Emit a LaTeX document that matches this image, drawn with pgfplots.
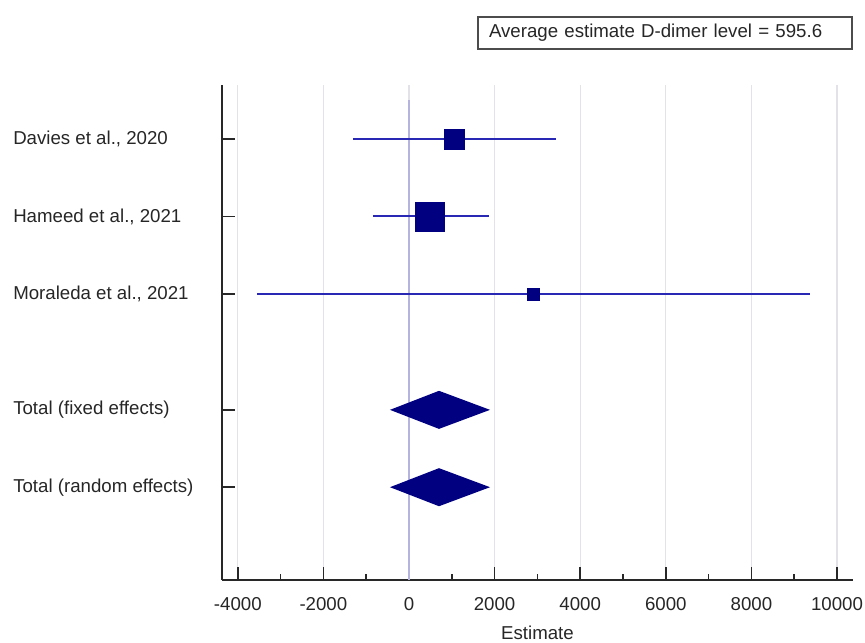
\documentclass[border=0pt]{standalone}
\usepackage{pgfplots}
\pgfplotsset{compat=1.18}
\usepackage{fontspec}
\setmainfont{Liberation Sans}
\definecolor{navy}{RGB}{0,0,128}
\definecolor{cibl}{RGB}{40,40,180}
\definecolor{zeroline}{RGB}{180,180,222}
\definecolor{gridc}{RGB}{226,226,232}
\definecolor{spine}{RGB}{40,40,40}
\begin{document}
\fontsize{14}{17}\selectfont
\begin{tikzpicture}
\path[use as bounding box] (-166.5pt,-47.25pt) rectangle (482.25pt,435pt);
\begin{axis}[
  at={(0pt,0pt)}, anchor=south west,
  scale only axis, width=473.25pt, height=371.25pt,
  xmin=-4369, xmax=10374, ymin=0.30, ymax=6.70, y dir=reverse,
  axis x line=bottom, axis y line=left,
  axis line style={-, line width=1.5pt, spine},
  xtick={-4000,-2000,...,10000},
  minor x tick num=1,
  ytick={1,2,3,4.5,5.5},
  yticklabels={{Davies et al., 2020},{Hameed et al., 2021},{Moraleda et al., 2021},{Total (fixed effects)},{Total (random effects)}},
  tick align=inside,
  major tick length=10pt, minor tick length=4.5pt,
  tick style={line width=1.2pt, spine},
  xmajorgrids, major x grid style={gridc, line width=0.8pt},
  xlabel={Estimate},
  scaled x ticks=false,
  /pgf/number format/1000 sep={},
  /pgf/number format/assume math mode=true,
  ticklabel style={font=\fontsize{14}{17}\selectfont, text=black!85},
  label style={font=\fontsize{14}{17}\selectfont, text=black!85},
  xticklabel style={yshift=-8pt},
  xlabel style={yshift=-2pt},
  yticklabel style={anchor=west, inner sep=0pt, xshift=-156.75pt},
  clip=false,
]
\addplot[zeroline, line width=1.5pt] coordinates {(0,0.5) (0,6.7)};
\addplot[cibl, line width=1.5pt] coordinates {(-1308,1) (3435,1)};
\addplot[cibl, line width=1.5pt] coordinates {(-841,2) (1869,2)};
\addplot[cibl, line width=1.5pt] coordinates {(-3551,3) (9369,3)};
\addplot[only marks, mark=square*, mark size=7.5pt, navy] coordinates {(1051,1)};
\addplot[only marks, mark=square*, mark size=10.9pt, navy] coordinates {(491,2)};
\addplot[only marks, mark=square*, mark size=4.5pt, navy] coordinates {(2897,3)};
\addplot[fill=navy, draw=none] coordinates {(-444,4.5) (701,4.254) (1893,4.5) (701,4.746)} -- cycle;
\addplot[fill=navy, draw=none] coordinates {(-444,5.5) (701,5.254) (1893,5.5) (701,5.746)} -- cycle;
\end{axis}
\node[draw=black!70, line width=1.1pt, minimum height=24pt, text width=264pt, align=left, inner xsep=8.25pt, text=black!85] at (332.25pt,410.25pt) {Average estimate D-dimer level = 595.6};
\end{tikzpicture}
\end{document}
